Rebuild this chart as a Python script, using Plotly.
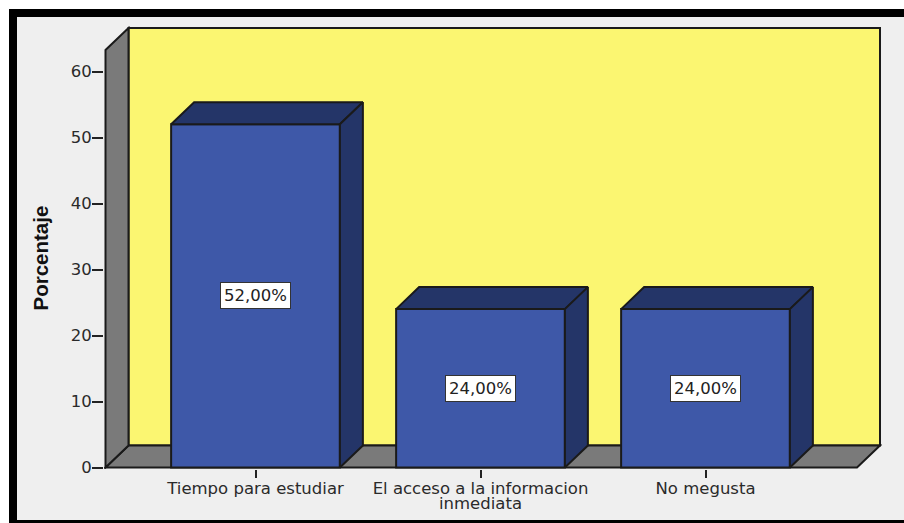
import plotly.graph_objects as go

categories = ["Tiempo para estudiar", "El acceso a la informacion", "No megusta"]
second_line = ["", "inmediata", ""]
values = [52, 24, 24]
value_labels = ["52,00%", "24,00%", "24,00%"]
y_ticks = [0, 10, 20, 30, 40, 50, 60]

W, H = 904, 523
PX_X = 225.0      # pixels per category
PX_Y = 6.6        # pixels per percent
X0_PX = 255.5     # pixel of first category
Y0_PX = 467.5     # pixel of value 0
L, R, T, B = 104, 882, 26, 469
BAR_W = 0.75
DX = 23 / PX_X    # 3D depth in axis units
DY = 22 / PX_Y
XL = (105.5 - X0_PX) / PX_X
XR = (857 - X0_PX) / PX_X
TOP = (Y0_PX - 28) / PX_Y

BLUE, BLUE_D = "#3e58a8", "#243568"
GREY, YELLOW, BG, EDGE = "#7a7a7a", "#fbf671", "#efefef", "#1a1a1a"
TEXT = "#2a2a2a"
FONT = "DejaVu Sans"
FS = 16.5


def px(xp):
    return (xp - L) / (R - L)


def py(yp):
    return (B - yp) / (B - T)


def poly(pts, fill):
    path = "M" + " L".join(f"{a},{b}" for a, b in pts) + " Z"
    return dict(type="path", path=path, xref="x", yref="y", layer="below",
                fillcolor=fill, line=dict(color=EDGE, width=2))


fig = go.Figure()

# Dark top and side faces of each bar
for i, v in enumerate(values):
    a, b = i - BAR_W / 2, i + BAR_W / 2
    fig.add_trace(go.Scatter(
        x=[a, b, b + DX, a + DX, a], y=[v, v, v + DY, v + DY, v],
        mode="lines", fill="toself", fillcolor=BLUE_D,
        line=dict(color=EDGE, width=2), hoverinfo="skip", showlegend=False))
    fig.add_trace(go.Scatter(
        x=[b, b + DX, b + DX, b, b], y=[0, DY, v + DY, v, 0],
        mode="lines", fill="toself", fillcolor=BLUE_D,
        line=dict(color=EDGE, width=2), hoverinfo="skip", showlegend=False))

fig.add_trace(go.Bar(
    x=list(range(len(values))), y=values, width=BAR_W,
    marker=dict(color=BLUE, line=dict(color=EDGE, width=2)),
    hoverinfo="skip", showlegend=False))

shapes = [
    # picture frame
    dict(type="rect", xref="paper", yref="paper", layer="below",
         x0=px(13), x1=px(920), y0=py(13), y1=py(524),
         fillcolor=BG, line=dict(color="#000000", width=8)),
    poly([(XL + DX, DY), (XR + DX, DY), (XR + DX, TOP), (XL + DX, TOP)], YELLOW),
    poly([(XL, 0), (XR, 0), (XR + DX, DY), (XL + DX, DY)], GREY),
    poly([(XL, 0), (XL + DX, DY), (XL + DX, TOP), (XL, TOP - DY)], GREY),
]

annotations = []
for i, (v, lab) in enumerate(zip(values, value_labels)):
    annotations.append(dict(
        x=i, y=v / 2, xref="x", yref="y", text=lab, showarrow=False,
        bgcolor="#ffffff", bordercolor="#333333", borderwidth=1, borderpad=3,
        font=dict(family=FONT, size=FS, color="#222222")))
for i, s in enumerate(second_line):
    if s:
        annotations.append(dict(
            x=i, y=py(503), xref="x", yref="paper", text=s, showarrow=False,
            xanchor="center", yanchor="middle",
            font=dict(family=FONT, size=FS, color=TEXT)))
annotations.append(dict(
    x=px(40), y=py(258.5), xref="paper", yref="paper", text="<b>Porcentaje</b>",
    textangle=-90, showarrow=False, xanchor="center", yanchor="middle",
    font=dict(family="Liberation Sans", size=20.5, color="#111111")))

fig.update_layout(
    width=W, height=H, autosize=False,
    margin=dict(l=L, r=W - R, t=T, b=H - B, pad=0),
    paper_bgcolor="#ffffff", plot_bgcolor="rgba(0,0,0,0)",
    shapes=shapes, annotations=annotations,
    xaxis=dict(range=[(L - X0_PX) / PX_X, (R - X0_PX) / PX_X],
               tickmode="array", tickvals=list(range(len(categories))),
               ticktext=categories, ticks="outside", ticklen=8, tickwidth=2,
               tickcolor="#222222", showgrid=False, zeroline=False, showline=False,
               tickangle=0, ticklabelstandoff=-4,
               tickfont=dict(family=FONT, size=FS, color=TEXT)),
    yaxis=dict(range=[(Y0_PX - B) / PX_Y, (Y0_PX - T) / PX_Y],
               tickmode="array", tickvals=y_ticks, ticks="outside", ticklen=11,
               tickwidth=2, tickcolor="#222222", showgrid=False, zeroline=False,
               showline=False, ticklabelstandoff=-3,
               tickfont=dict(family=FONT, size=FS, color=TEXT)),
)

fig.write_html("out.html", config={"displayModeBar": False},
               post_script="document.body.style.margin='0';document.body.style.overflow='hidden';")
